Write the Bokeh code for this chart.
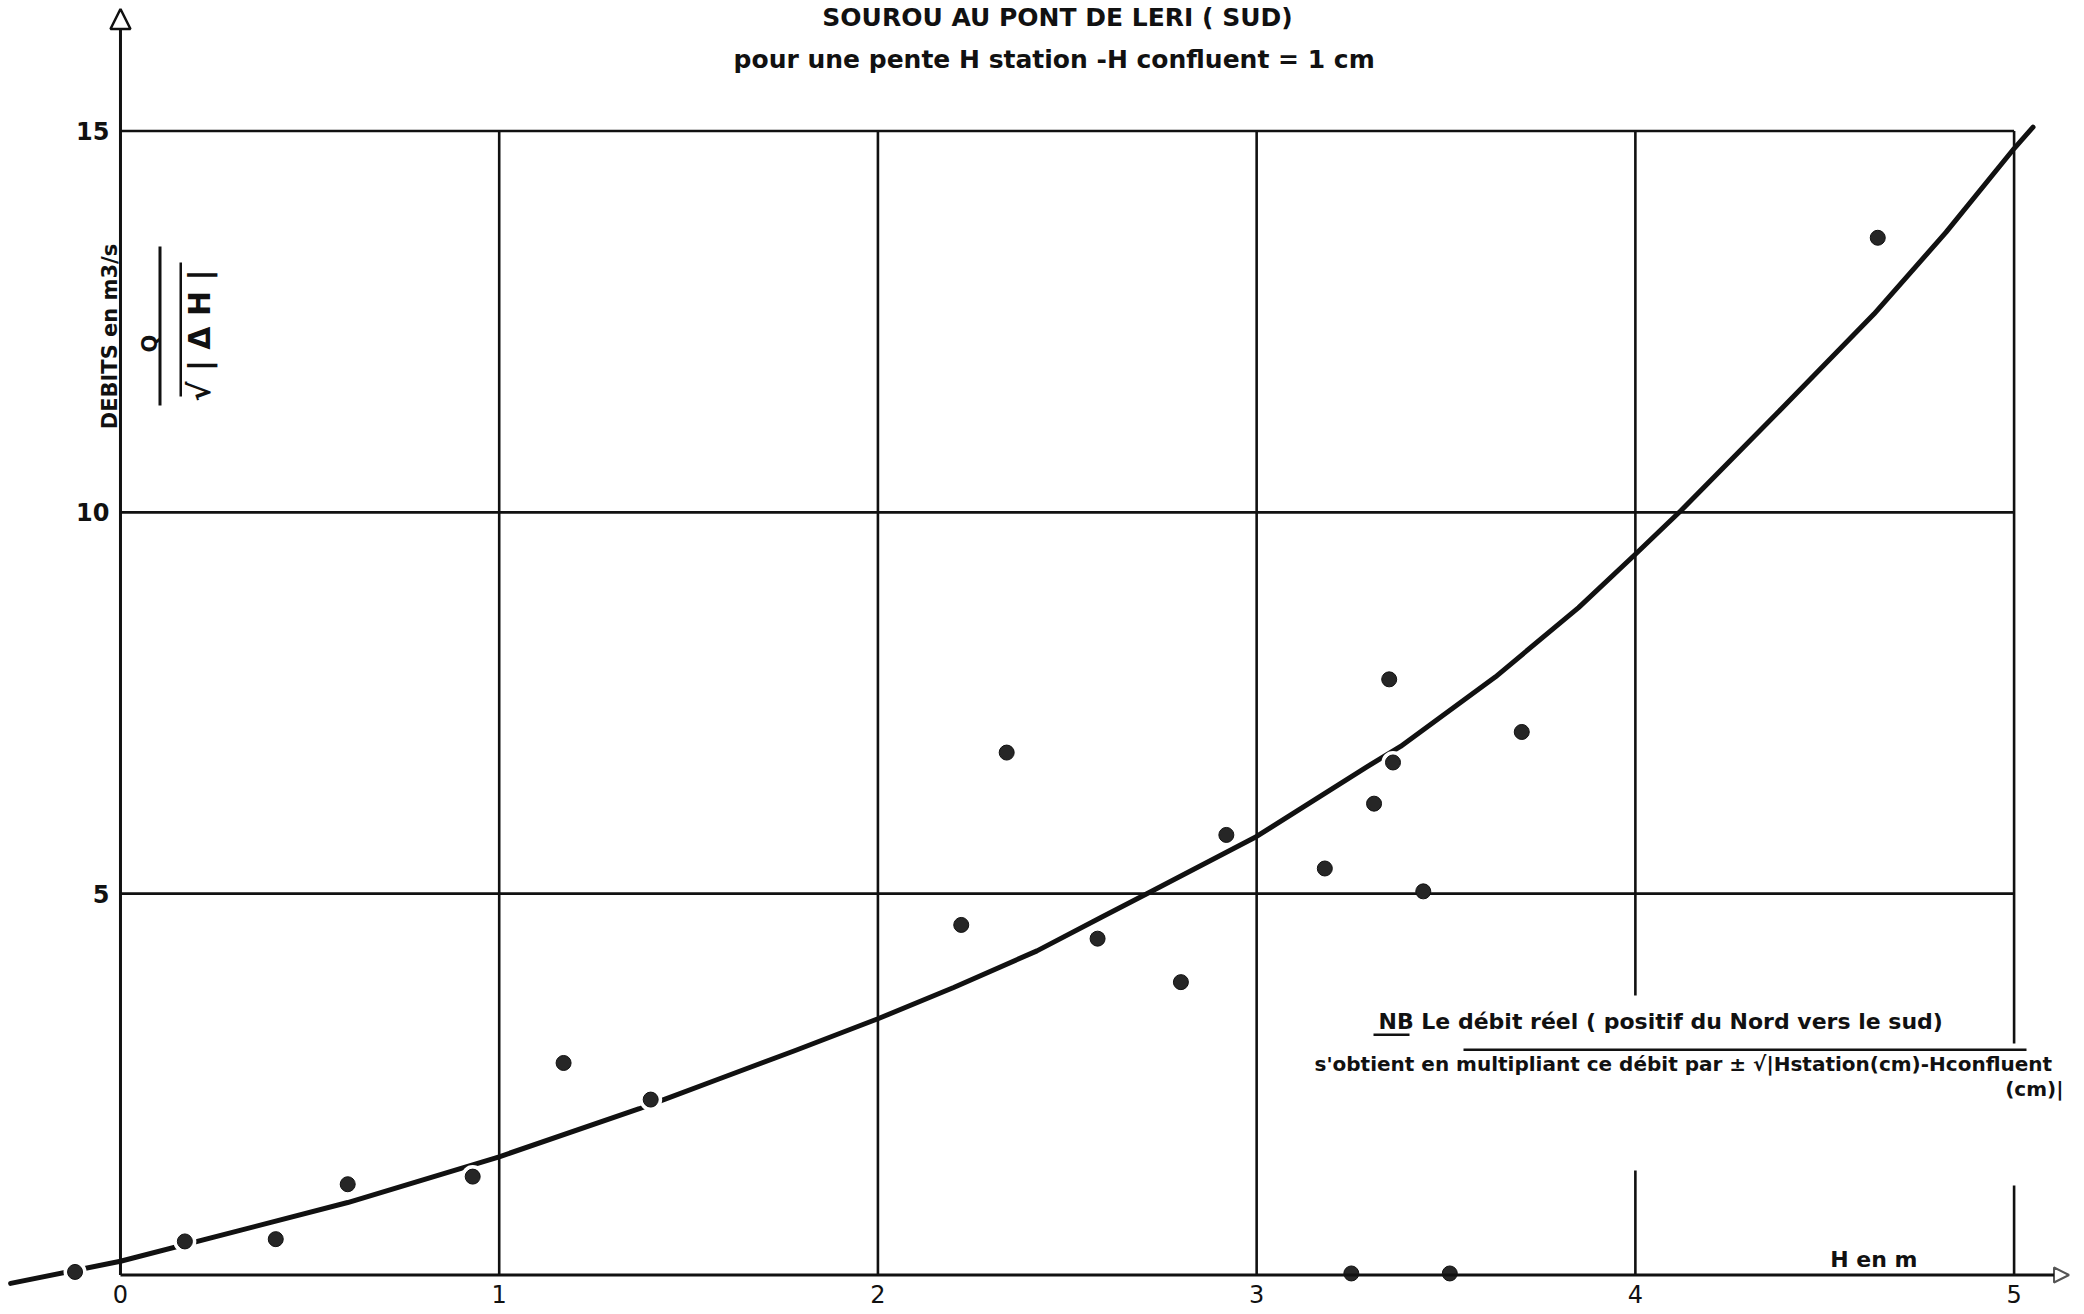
import math
from bokeh.plotting import figure
from bokeh.models import Range1d, Label, Arrow, NormalHead, BoxAnnotation
from bokeh.core.properties import value
from bokeh.embed import file_html
from bokeh.resources import INLINE

# ---------------- data ----------------
TITLE = "SOUROU AU PONT DE LERI ( SUD)"
SUBTITLE = "pour une pente  H station -H confluent = 1 cm"
Y_LABEL = "DEBITS en m3/s"
X_LABEL = "H  en  m"
NOTE_1 = "NB  Le débit réel ( positif du Nord vers le sud)"
NOTE_2 = "s'obtient en multipliant ce débit par ± √|Hstation(cm)-Hconfluent"
NOTE_3 = "(cm)|"

X_TICKS = [0, 1, 2, 3, 4, 5]
X_TICK_LABELS = ["0", "1", "2", "3", "4", "5"]
Y_TICKS = [5, 10, 15]
Y_TICK_LABELS = ["5", "10", "15"]

# measured points  H (m)  /  Q/sqrt|dH|
H_obs = [-0.12, 0.17, 0.41, 0.60, 0.93, 1.17, 1.40, 2.22, 2.34, 2.58, 2.80,
         2.92, 3.18, 3.25, 3.31, 3.35, 3.36, 3.44, 3.51, 3.70, 4.64]
Q_obs = [0.04, 0.44, 0.47, 1.19, 1.29, 2.78, 2.30, 4.59, 6.85, 4.41, 3.84,
         5.77, 5.33, 0.02, 6.18, 7.81, 6.72, 5.03, 0.02, 7.12, 13.60]

# fitted rating curve
H_curve = [-0.29, 0.0, 0.6, 1.0, 1.37, 1.44, 1.58, 1.78, 2.0, 2.2, 2.42, 2.59,
           2.71, 3.0, 3.29, 3.38, 3.63, 3.85, 4.0, 4.12, 4.38, 4.63, 4.82, 5.0, 5.05]
Q_curve = [-0.11, 0.18, 0.95, 1.55, 2.18, 2.31, 2.57, 2.94, 3.36, 3.77, 4.25, 4.69,
           5.0, 5.75, 6.66, 6.93, 7.84, 8.75, 9.45, 10.02, 11.33, 12.60, 13.67, 14.77, 15.05]

X_AXIS_END = 5.145
Y_AXIS_END = 16.6

# ---------------- figure ----------------
W, H = 2084, 1314
FONT = "DejaVu Sans"
INK = "#111111"

p = figure(width=W, height=H, x_range=Range1d(-0.3168, 5.1859),
           y_range=Range1d(-0.518, 16.711), output_backend="svg",
           toolbar_location=None, tools="", min_border=0,
           x_axis_location=None, y_axis_location=None)
p.grid.visible = False
p.outline_line_color = None
p.background_fill_color = "white"
p.border_fill_color = "white"

# curve
p.line(H_curve, Q_curve, line_color=INK, line_width=5, line_cap="round", line_join="round")
# white halo around the points (breaks the curve where it meets a point)
p.scatter(H_obs, Q_obs, size=23, fill_color="white", line_color=None)

# grid
gx = X_TICKS[1:]
p.segment(x0=gx, y0=[0] * len(gx), x1=gx, y1=[max(Y_TICKS)] * len(gx),
          line_color=INK, line_width=2.6)
p.segment(x0=[0] * len(Y_TICKS), y0=Y_TICKS, x1=[max(X_TICKS)] * len(Y_TICKS),
          y1=Y_TICKS, line_color=INK, line_width=2.6)

# axes with arrows
p.add_layout(Arrow(x_start=0, y_start=0, x_end=0, y_end=Y_AXIS_END,
                   line_color=INK, line_width=3,
                   end=NormalHead(size=20, fill_color="white", line_color=INK, line_width=2.5)))
p.add_layout(Arrow(x_start=0, y_start=0, x_end=X_AXIS_END, y_end=0,
                   line_color=INK, line_width=3,
                   end=NormalHead(size=15, fill_color="white", line_color="#555555", line_width=2)))

# points
p.scatter(H_obs, Q_obs, size=15, fill_color="#262626", line_color="#111111", line_width=1)

# tick labels
p.text(x=[0] * len(Y_TICKS), y=Y_TICKS, text=Y_TICK_LABELS, x_offset=-11,
       text_align="right", text_baseline="middle", text_font=value(FONT),
       text_font_style="bold", text_font_size="24px", text_color=INK)
p.text(x=X_TICKS, y=[0] * len(X_TICKS), text=X_TICK_LABELS, y_offset=10,
       text_align="center", text_baseline="top", text_font=value(FONT),
       text_font_size="24px", text_color=INK)

def sx(px):
    return px

def sy(py):
    return H - py

def lab(text, x, y, size, align="center", base="middle", angle=0.0, bold=True, bg=None, pad=0):
    kw = dict(x=sx(x), y=sy(y), x_units="screen", y_units="screen", text=text,
              text_font=FONT, text_font_size=f"{size}px",
              text_font_style="bold" if bold else "normal",
              text_align=align, text_baseline=base, angle=angle, text_color=INK)
    if bg:
        kw["background_fill_color"] = bg
        kw["padding"] = pad
    p.add_layout(Label(**kw))

def box(x0, x1, y0, y1, color):
    p.add_layout(BoxAnnotation(left=sx(x0), right=sx(x1), bottom=sy(y1), top=sy(y0),
                               left_units="screen", right_units="screen",
                               top_units="screen", bottom_units="screen",
                               fill_color=color, fill_alpha=1.0, line_color=None))

# titles
lab(TITLE, 1057, 17, 25)
lab(SUBTITLE, 1058, 59, 25)

# y axis label + Q / sqrt|dH|
lab(Y_LABEL, 109, 336, 21, angle=math.pi / 2)
lab("Q", 149, 343, 21, angle=math.pi / 2)
box(158, 161, 246, 405, INK)
lab("√ | Δ H |", 199, 335, 30, angle=math.pi / 2)
box(179, 181.5, 262, 396, INK)

# x axis label
lab(X_LABEL, 1881, 1259, 22)

# note (grid lines are interrupted around it)
box(1622, 1648, 995, 1170, "white")
box(2002, 2027, 1057, 1185, "white")
lab(NOTE_1, 1370, 1021, 22, align="left", bg="white", pad=8)
lab(NOTE_2, 1306, 1063, 20, align="left", bg="white", pad=8)
lab(NOTE_3, 2067, 1088, 20, align="right", bg="white", pad=4)
box(1373, 1409, 1033, 1035.5, INK)
box(1463, 2026, 1048, 1050.5, INK)

open("out.html", "w").write(file_html(p, INLINE))
